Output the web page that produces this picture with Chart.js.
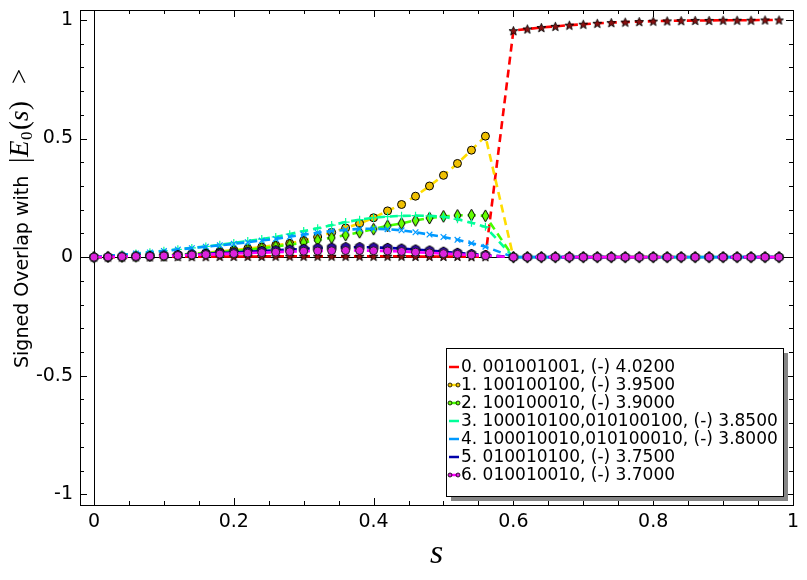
<!DOCTYPE html>
<html lang="en">
<head>
  <meta charset="UTF-8" />
  <title>Signed Overlap with |E0(s)&gt;</title>
  <script src="https://cdn.jsdelivr.net/npm/chart.js"></script>
  <style>
    html, body { margin: 0; padding: 0; background: #fff; }
    #wrap { width: 807px; height: 580px; position: relative; }
  </style>
</head>
<body>

<div id="wrap"><canvas id="overlapChart"></canvas></div>

<script>
  // s values (no sample at 0.58)
  const sValues = [0, 0.02, 0.04, 0.06, 0.08, 0.10, 0.12, 0.14, 0.16, 0.18, 0.20, 0.22, 0.24, 0.26, 0.28,
    0.30, 0.32, 0.34, 0.36, 0.38, 0.40, 0.42, 0.44, 0.46, 0.48, 0.50, 0.52, 0.54, 0.56,
    0.60, 0.62, 0.64, 0.66, 0.68, 0.70, 0.72, 0.74, 0.76, 0.78, 0.80, 0.82, 0.84, 0.86, 0.88,
    0.90, 0.92, 0.94, 0.96, 0.98];

  const zerosAfter = [0, 0, 0, 0, 0, 0, 0, 0, 0, 0, 0, 0, 0, 0, 0, 0, 0, 0, 0, 0];

  const overlap0 = [0, 0, 0, 0.001, 0.001, 0.001, 0.002, 0.002, 0.002, 0.003, 0.003, 0.003, 0.003, 0.004, 0.004,
    0.004, 0.004, 0.004, 0.004, 0.004, 0.004, 0.004, 0.004, 0.003, 0.003, 0.003, 0.003, 0.002, 0.002,
    0.955, 0.962, 0.968, 0.973, 0.978, 0.982, 0.986, 0.989, 0.991, 0.993, 0.995, 0.996, 0.997, 0.998, 0.998,
    0.999, 0.999, 0.999, 1.0, 1.0];
  const overlap1 = [0, 0.001, 0.002, 0.004, 0.006, 0.008, 0.011, 0.014, 0.018, 0.024, 0.030, 0.036, 0.043, 0.050, 0.058,
    0.070, 0.085, 0.104, 0.123, 0.142, 0.166, 0.195, 0.222, 0.257, 0.300, 0.345, 0.395, 0.451, 0.510].concat(zerosAfter);
  const overlap2 = [0, 0.001, 0.002, 0.003, 0.005, 0.007, 0.010, 0.013, 0.017, 0.021, 0.026, 0.031, 0.037, 0.045, 0.052,
    0.062, 0.072, 0.082, 0.093, 0.105, 0.118, 0.132, 0.142, 0.155, 0.165, 0.172, 0.176, 0.177, 0.174].concat(zerosAfter);
  const overlap3 = [0, 0.005, 0.010, 0.015, 0.021, 0.027, 0.033, 0.039, 0.045, 0.052, 0.060, 0.068, 0.076, 0.085, 0.097,
    0.110, 0.122, 0.135, 0.148, 0.158, 0.166, 0.171, 0.174, 0.175, 0.174, 0.170, 0.160, 0.145, 0.128].concat(zerosAfter);
  const overlap4 = [0, 0.005, 0.010, 0.015, 0.020, 0.026, 0.032, 0.038, 0.044, 0.050, 0.056, 0.063, 0.070, 0.077, 0.086,
    0.095, 0.103, 0.110, 0.115, 0.119, 0.120, 0.118, 0.113, 0.105, 0.095, 0.085, 0.073, 0.059, 0.044].concat(zerosAfter);
  const overlap5 = [0, 0.001, 0.002, 0.003, 0.005, 0.007, 0.009, 0.011, 0.014, 0.017, 0.020, 0.023, 0.026, 0.029, 0.032,
    0.035, 0.038, 0.040, 0.042, 0.042, 0.041, 0.039, 0.036, 0.032, 0.028, 0.023, 0.018, 0.013, 0.009].concat(zerosAfter);
  const overlap6 = [0, 0.001, 0.002, 0.003, 0.004, 0.005, 0.007, 0.009, 0.011, 0.013, 0.015, 0.017, 0.019, 0.021, 0.023,
    0.025, 0.026, 0.027, 0.028, 0.028, 0.027, 0.026, 0.024, 0.021, 0.018, 0.015, 0.012, 0.009, 0.006].concat(zerosAfter);

  const seriesLabels = [
    '0. 001001001, (-) 4.0200',
    '1. 100100100, (-) 3.9500',
    '2. 100100010, (-) 3.9000',
    '3. 100010100,010100100, (-) 3.8500',
    '4. 100010010,010100010, (-) 3.8000',
    '5. 010010100, (-) 3.7500',
    '6. 010010010, (-) 3.7000'
  ];
  const lineColors = ['#ff0000', '#ffdd00', '#44ff00', '#00ff99', '#0099ff', '#0000aa', '#ff00ff'];

  const xTickValues = [0, 0.2, 0.4, 0.6, 0.8, 1];
  const xTickLabels = ['0', '0.2', '0.4', '0.6', '0.8', '1'];
  const yTickValues = [-1, -0.5, 0, 0.5, 1];
  const yTickLabels = ['-1', '-0.5', '0', '0.5', '1'];

  // little canvases used as point styles
  function markerCanvas(w, h, draw) {
    const c = document.createElement('canvas');
    c.width = w; c.height = h;
    draw(c.getContext('2d'), w / 2, h / 2);
    return c;
  }
  const starMark = markerCanvas(11, 11, (g, cx, cy) => {
    g.beginPath();
    for (let k = 0; k < 10; k++) {
      const r = k % 2 ? 2 : 4.7;
      const a = -Math.PI / 2 + k * Math.PI / 5;
      g.lineTo(cx + r * Math.cos(a), cy + 0.5 + r * Math.sin(a));
    }
    g.closePath();
    g.fillStyle = '#8b1010'; g.fill();
    g.lineWidth = 0.9; g.strokeStyle = '#000'; g.stroke();
  });
  const diamondMark = markerCanvas(9, 14, (g, cx, cy) => {
    g.beginPath();
    g.moveTo(cx, 1); g.lineTo(cx + 3.5, cy); g.lineTo(cx, 13); g.lineTo(cx - 3.5, cy);
    g.closePath();
    g.fillStyle = '#66ff00'; g.fill();
    g.lineWidth = 1; g.strokeStyle = '#000'; g.stroke();
  });
  const hexMark = markerCanvas(12, 12, (g, cx, cy) => {
    g.beginPath();
    for (let k = 0; k < 6; k++) {
      const a = -Math.PI / 2 + k * Math.PI / 3;
      g.lineTo(cx + 4.8 * Math.cos(a), cy + 4.8 * Math.sin(a));
    }
    g.closePath();
    g.fillStyle = '#2a0aa0'; g.fill();
    g.lineWidth = 1; g.strokeStyle = '#000'; g.stroke();
  });

  const markerStyles = [
    { pointStyle: starMark, pointRadius: 5 },
    { pointStyle: 'circle', pointRadius: 4, pointBackgroundColor: '#f0c000', pointBorderColor: '#000', pointBorderWidth: 1 },
    { pointStyle: diamondMark, pointRadius: 5 },
    { pointStyle: 'cross', pointRadius: 4, pointBorderColor: '#00ff99', pointBorderWidth: 1.2 },
    { pointStyle: 'crossRot', pointRadius: 4, pointBorderColor: '#0099ff', pointBorderWidth: 1.2 },
    { pointStyle: hexMark, pointRadius: 5 },
    { pointStyle: 'circle', pointRadius: 4, pointBackgroundColor: '#dd22dd', pointBorderColor: '#222', pointBorderWidth: 1 }
  ];

  const seriesValues = [overlap0, overlap1, overlap2, overlap3, overlap4, overlap5, overlap6];

  const datasets = seriesValues.map((vals, i) => Object.assign({
    label: seriesLabels[i],
    data: sValues.map((s, k) => ({ x: s, y: vals[k] })),
    borderColor: lineColors[i],
    backgroundColor: lineColors[i],
    borderWidth: 2.6,
    borderDash: [8, 5],
    tension: 0,
    fill: false,
    order: 6 - i
  }, markerStyles[i]));

  // frame, inward ticks, zero lines, titles and the boxed legend
  const decorations = {
    id: 'decorations',
    beforeDatasetsDraw(chart) {
      const { ctx, chartArea: a, scales: { x, y } } = chart;
      ctx.save();
      ctx.strokeStyle = '#000';
      ctx.lineWidth = 1;
      const x0 = Math.round(x.getPixelForValue(0)) + 0.5;
      const y0 = Math.round(y.getPixelForValue(0)) + 0.5;
      ctx.beginPath();
      ctx.moveTo(x0, a.top); ctx.lineTo(x0, a.bottom);
      ctx.moveTo(a.left, y0); ctx.lineTo(a.right, y0);
      ctx.stroke();
      ctx.restore();
    },
    afterDraw(chart) {
      const { ctx, chartArea: a, scales: { x, y } } = chart;
      ctx.save();
      ctx.strokeStyle = '#000';
      ctx.lineWidth = 1;
      ctx.strokeRect(Math.round(a.left) + 0.5, Math.round(a.top) + 0.5,
        Math.round(a.right - a.left), Math.round(a.bottom - a.top));

      ctx.beginPath();
      for (let v = 0; v <= 1.0001; v += 0.05) {
        const px = Math.round(x.getPixelForValue(v)) + 0.5;
        const len = xTickValues.some(t => Math.abs(t - v) < 1e-6) ? 7 : 4;
        ctx.moveTo(px, a.bottom); ctx.lineTo(px, a.bottom - len);
        ctx.moveTo(px, a.top); ctx.lineTo(px, a.top + len);
      }
      for (let v = -1; v <= 1.0001; v += 0.1) {
        const py = Math.round(y.getPixelForValue(v)) + 0.5;
        const len = yTickValues.some(t => Math.abs(t - v) < 1e-6) ? 7 : 4;
        ctx.moveTo(a.left, py); ctx.lineTo(a.left + len, py);
        ctx.moveTo(a.right, py); ctx.lineTo(a.right - len, py);
      }
      ctx.stroke();

      // y axis title, the bra-ket part set like math
      ctx.fillStyle = '#000';
      ctx.translate(28, 368);
      ctx.rotate(-Math.PI / 2);
      ctx.textBaseline = 'alphabetic';
      ctx.textAlign = 'left';
      ctx.font = '19px "DejaVu Sans"';
      ctx.fillText('Signed Overlap with', 0, 0);
      const serif = '27px "Liberation Serif"', serifIt = 'italic 27px "Liberation Serif"';
      [['|', serif, 205, 0], ['E', serifIt, 211, 0], ['0', '17px "Liberation Serif"', 228, 4],
       ['(', serif, 238, 0], ['s', serifIt, 247, 0], [')', serif, 258, 0], ['>', serif, 284, 0]]
        .forEach(([t, f, px, dy]) => { ctx.font = f; ctx.fillText(t, px, dy); });
      ctx.setTransform(1, 0, 0, 1, 0, 0);

      // x axis title
      ctx.font = 'italic 34px "Liberation Serif"';
      ctx.textAlign = 'center';
      ctx.fillText('s', (a.left + a.right) / 2, 563);

      // legend box
      const lx = a.right - 347, ly = a.bottom - 157, lw = 337, lh = 148;
      ctx.fillStyle = '#858585';
      ctx.fillRect(lx + 5, ly + 5, lw, lh);
      ctx.fillStyle = '#fff';
      ctx.fillRect(lx, ly, lw, lh);
      ctx.strokeRect(lx + 0.5, ly + 0.5, lw, lh);
      ctx.font = '17px "DejaVu Sans"';
      ctx.textAlign = 'left';
      ctx.textBaseline = 'middle';
      seriesLabels.forEach((lab, i) => {
        const ty = ly + 19 + i * 18;
        ctx.strokeStyle = lineColors[i];
        ctx.lineWidth = 2.5;
        ctx.beginPath();
        ctx.moveTo(lx + 3, ty); ctx.lineTo(lx + 13, ty);
        ctx.stroke();
        const m = markerStyles[i];
        let fillC = null;
        if (m.pointStyle === 'circle') fillC = m.pointBackgroundColor;
        else if (i === 2) fillC = '#66ff00';
        if (fillC) {
          ctx.lineWidth = 0.8;
          ctx.strokeStyle = '#000';
          ctx.fillStyle = fillC;
          [lx + 4, lx + 12].forEach(cx => {
            ctx.beginPath(); ctx.arc(cx, ty, 2, 0, Math.PI * 2); ctx.fill(); ctx.stroke();
          });
        }
        ctx.fillStyle = '#000';
        ctx.fillText(lab, lx + 15, ty + 1);
      });
      ctx.restore();
    }
  };

  const ctx = document.getElementById('overlapChart').getContext('2d');
  const overlapChart = new Chart(ctx, {
    type: 'line',
    data: { datasets: datasets },
    plugins: [decorations],
    options: {
      responsive: true,
      maintainAspectRatio: false,
      animation: false,
      layout: { padding: { top: 10, right: 14, left: 0, bottom: 0 } },
      scales: {
        x: {
          type: 'linear',
          min: -0.02,
          max: 1.0,
          afterBuildTicks: s => { s.ticks = xTickValues.map(v => ({ value: v })); },
          afterFit: s => { s.height = 75; s.paddingLeft = 0; s.paddingRight = 0; },
          grid: { display: false, drawTicks: false },
          border: { display: false },
          ticks: {
            padding: 6,
            maxRotation: 0,
            autoSkip: false,
            color: '#000',
            font: { family: 'DejaVu Sans', size: 19 },
            callback: v => xTickLabels[xTickValues.indexOf(v)]
          }
        },
        y: {
          type: 'linear',
          min: -1.045,
          max: 1.042,
          afterBuildTicks: s => { s.ticks = yTickValues.map(v => ({ value: v })); },
          afterFit: s => { s.width = 80; s.paddingTop = 0; s.paddingBottom = 0; },
          grid: { display: false, drawTicks: false },
          border: { display: false },
          ticks: {
            padding: 7,
            autoSkip: false,
            color: '#000',
            font: { family: 'DejaVu Sans', size: 19 },
            callback: v => yTickLabels[yTickValues.indexOf(v)]
          }
        }
      },
      plugins: {
        legend: { display: false },
        tooltip: { enabled: false }
      }
    }
  });
</script>
</body>
</html>
